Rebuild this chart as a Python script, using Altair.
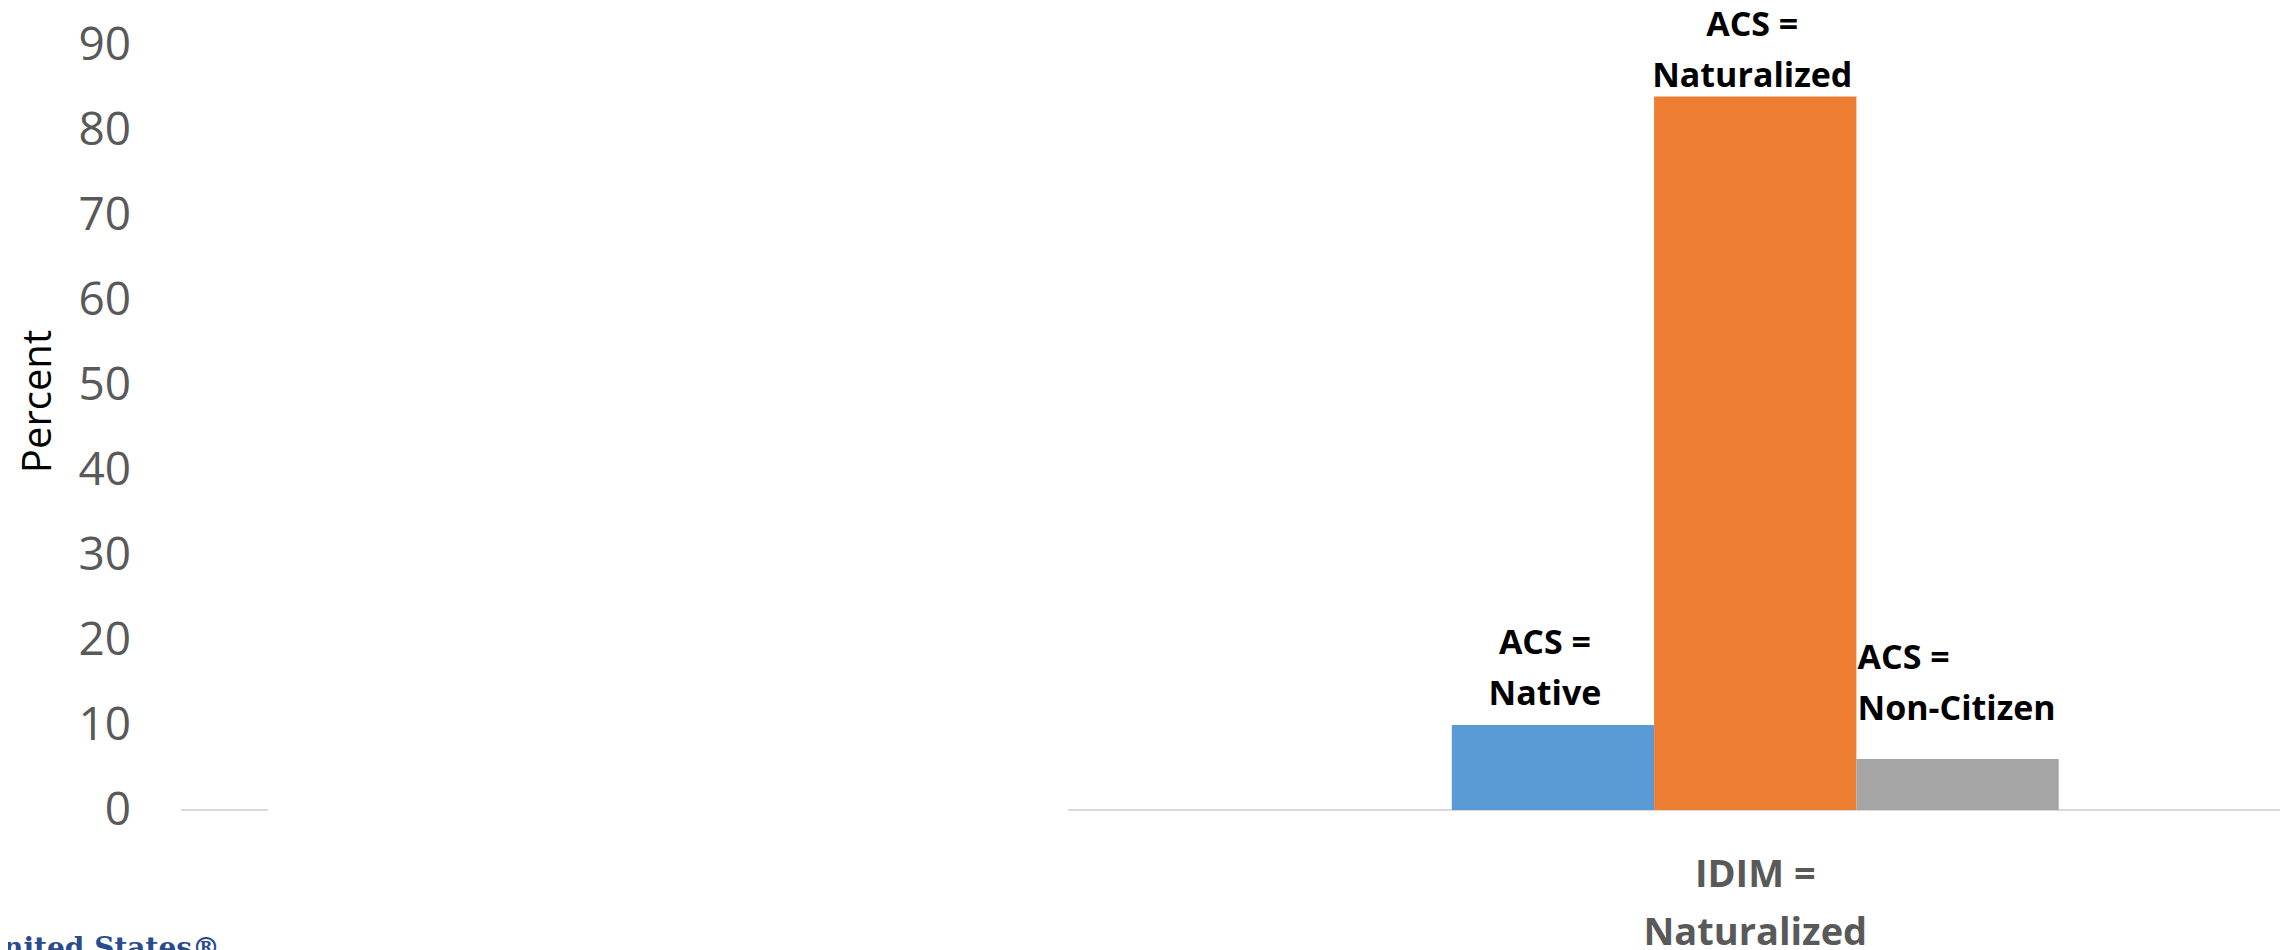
import altair as alt
import pandas as pd

# ---- data ----
groups = ["", "IDIM = Naturalized"]          # first group is hidden behind a white box in the source
series = ["ACS = Native", "ACS = Naturalized", "ACS = Non-Citizen"]
values = [10.0, 84.0, 6.0]
labels = ["ACS =\nNative", "ACS =\nNaturalized", "ACS =\nNon-Citizen"]
colors = ["#5B9BD5", "#ED7D31", "#A5A5A5"]
y_ticks = [0, 10, 20, 30, 40, 50, 60, 70, 80, 90]
logo_text = ["United States®"]

df = pd.DataFrame({
    "group": [groups[1]] * len(series),
    "series": series,
    "value": values,
    "label": labels,
})
base_df = pd.DataFrame({"v": [0]})
logo_df = pd.DataFrame({"t": logo_text})

W, H = 2099, 764.5

# gap between groups (Excel gap width) is represented by empty slots on both sides
offset_domain = ["(gap left)"] + series + ["(gap right)"]

x_enc = alt.X(
    "group:N",
    scale=alt.Scale(domain=groups, paddingInner=0, paddingOuter=0),
    axis=alt.Axis(
        title=None, domain=False, ticks=False, tickSize=0, labelAngle=0,
        labelPadding=46, labelFont="Open Sans", labelFontSize=38,
        labelFontWeight="bold", labelColor="#595959", labelLineHeight=58,
        labelLimit=1000,
        labelExpr="datum.label == '' ? '' : [slice(datum.label, 0, indexof(datum.label, '=') + 1), slice(datum.label, indexof(datum.label, '=') + 2)]",
    ),
)
xo_enc = alt.XOffset("series:N", scale=alt.Scale(domain=offset_domain, paddingInner=0, paddingOuter=0.094))
y_enc = alt.Y(
    "value:Q",
    scale=alt.Scale(domain=[0, 90], nice=False, zero=True),
    axis=alt.Axis(
        values=y_ticks, grid=False, domain=False, ticks=False, tickSize=0,
        labelPadding=50.5, labelFont="Open Sans", labelFontSize=46,
        labelColor="#595959",
        title="Percent", titleFont="Open Sans", titleFontSize=40,
        titleFontWeight="normal", titleColor="#000000", titleAngle=270,
        titleX=-131, titleY=355.5, titleAlign="center", titleBaseline="alphabetic",
    ),
)

bars = alt.Chart(df).mark_bar().encode(
    x=x_enc,
    xOffset=xo_enc,
    y=y_enc,
    color=alt.Color("series:N", scale=alt.Scale(domain=series, range=colors), legend=None),
)

def label_layer(name, align, dx, dy):
    return alt.Chart(df).transform_filter(alt.datum.series == name).mark_text(
        align=align, baseline="alphabetic", dx=dx, dy=dy,
        font="Open Sans", fontSize=34, fontWeight="bold", color="#000000",
        lineBreak="\n", lineHeight=51,
    ).encode(x=x_enc, xOffset=xo_enc, y=y_enc, text="label:N")

lab_native = label_layer(series[0], "center", -8, -71)
lab_nat = label_layer(series[1], "center", -3, -60)
lab_non = label_layer(series[2], "left", -100, -90)

rule_left = alt.Chart(base_df).mark_rule(color="#D9D9D9", strokeWidth=2).encode(
    x=alt.value(0), x2=alt.value(87), y=alt.datum(0)
)
rule_right = alt.Chart(base_df).mark_rule(color="#D9D9D9", strokeWidth=2).encode(
    x=alt.value(887), x2=alt.value(W), y=alt.datum(0)
)

# partially visible logo text at the bottom-left corner of the source slide
logo = alt.Chart(logo_df).mark_text(
    align="right", baseline="alphabetic", font="DejaVu Serif", fontSize=28,
    fontWeight="bold", color="#2B4C8C",
).encode(x=alt.value(39), y=alt.value(H + 147), text="t:N")

chart = alt.layer(rule_left, rule_right, bars, lab_native, lab_nat, lab_non, logo).properties(
    width=W, height=H,
    autosize=alt.AutoSizeParams(type="none"),
    padding={"left": 173, "top": 37.5, "right": 4, "bottom": 140},
    background="white",
).configure_view(stroke=None)

chart.save("out.html", embed_options={"renderer": "svg", "actions": False})
